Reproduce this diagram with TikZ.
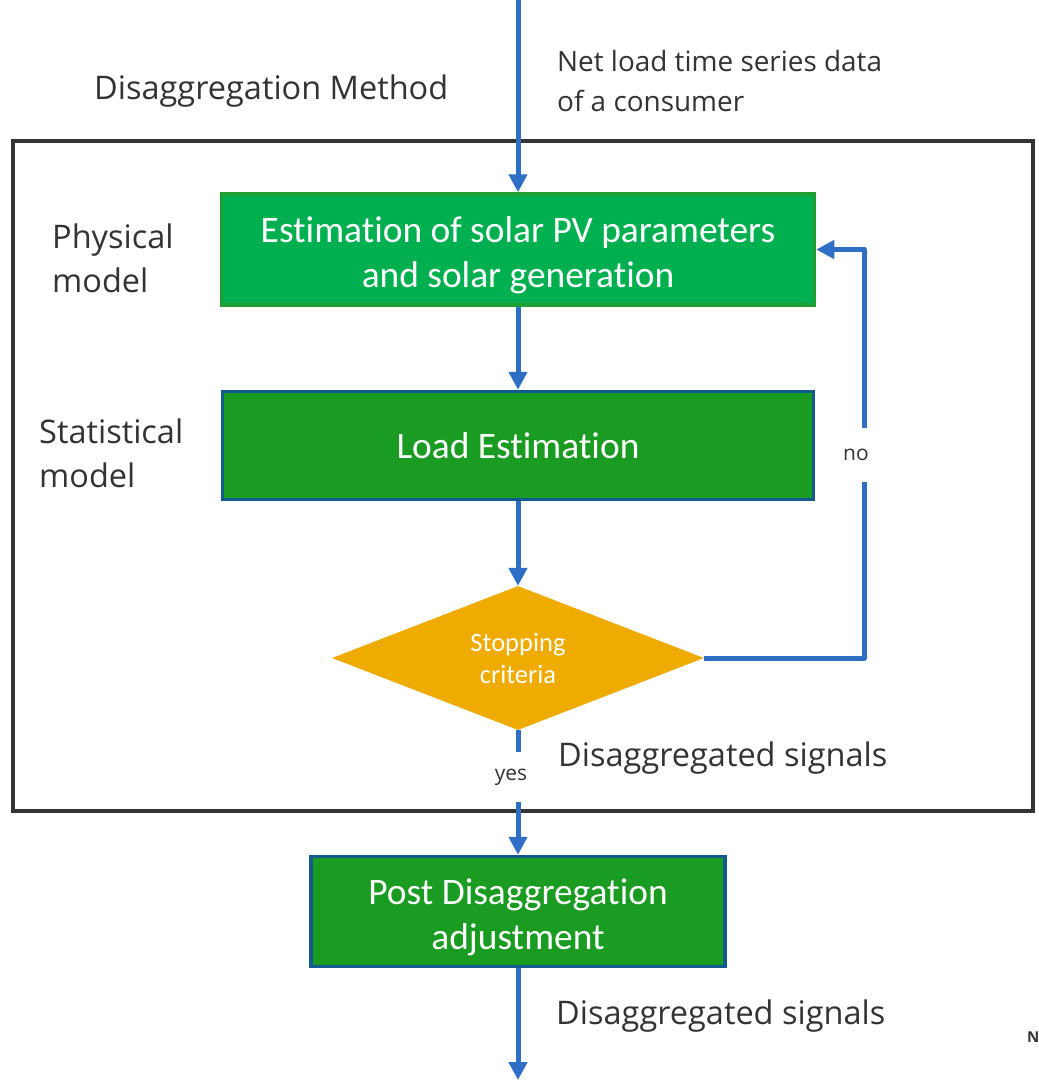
\documentclass[tikz,border=0pt]{standalone}
\usepackage{fontspec}
\usetikzlibrary{arrows.meta,shapes.geometric}
\newfontfamily\boxfont[Ligatures={NoCommon,NoContextual}]{Carlito}
\newfontfamily\lblfont{Open Sans}
\newcommand{\toppad}{\rule{0pt}{37pt}}
\definecolor{arrblue}{HTML}{2F6EC5}
\definecolor{gA}{HTML}{00B050}
\definecolor{gAb}{HTML}{1F9E34}
\definecolor{gB}{HTML}{1A9C22}
\definecolor{bB}{HTML}{125A8E}
\definecolor{dia}{HTML}{F0AB00}
\definecolor{txt}{HTML}{333333}
\definecolor{framec}{HTML}{333333}
\begin{document}
\begin{tikzpicture}[x=1pt,y=-1pt,
 arr/.style={draw=arrblue,line width=5pt,-{Triangle[width=18pt,length=18pt]}},
 boxA/.style={draw=gAb,fill=gA,line width=3.5pt,text=white,font=\boxfont\fontsize{37.4}{45}\selectfont,align=center,inner sep=0pt},
 boxB/.style={draw=bB,fill=gB,line width=3.5pt,text=white,font=\boxfont\fontsize{37.4}{45}\selectfont,align=center,inner sep=0pt},
 decide/.style={diamond,fill=dia,text=white,font=\boxfont\fontsize{26.5}{32}\selectfont,align=center,inner sep=0pt,aspect=2.58},
 lbl/.style={text=txt,font=\lblfont\fontsize{32.5}{44}\selectfont,align=left,anchor=west,inner sep=0pt},
 small/.style={text=txt,font=\lblfont\fontsize{27.9}{40}\selectfont,align=left,anchor=west,inner sep=0pt},
 tag/.style={text=txt,fill=white,font=\lblfont\fontsize{21}{25}\selectfont,inner sep=3pt},
]
\useasboundingbox (0,0) rectangle (1039,1080);
% outer frame
\node[draw=framec,line width=3.5pt,minimum width=1020pt,minimum height=670pt,inner sep=0pt] (frm) at (523,476) {};
% coordinates
\coordinate (top) at (518,0);
\coordinate (bot) at (518,1080);
% boxes
\node[boxA,minimum width=593pt,minimum height=111pt] (b1) at (518,249.5) {\toppad Estimation of solar PV parameters\\and solar generation};
\node[boxB,minimum width=591pt,minimum height=108pt] (b2) at (518,445.5) {Load Estimation};
\node[decide,minimum width=372pt,minimum height=144pt] (d) at (518,658) {Stopping\\criteria};
\node[boxB,minimum width=414pt,minimum height=110pt] (b3) at (518,911.5) {\toppad Post Disaggregation\\adjustment};
\coordinate (c1) at (864,658);
\coordinate (c2) at (864,249.5);
% connectors
\draw[arr] (top) -- (b1.north);
\draw[arr] (b1.south) -- (b2.north);
\draw[arr] (b2.south) -- (d.north);
\draw[arr,line join=round] (d.east) -- (c1) -- (c2) -- (b1.east);
\draw[arr] (d.south) -- (b3.north);
\draw[arr] (b3.south) -- (bot);
% tags
\node[tag,minimum height=54pt] (no) at (856,455) {no};
\node[tag,minimum height=50pt] (yes) at (511,777) {yes};
% labels
\node[lbl] (meth) at (94,91) {Disaggregation Method};
\node[small] (inp) at (557,81) {Net load time series data\\of a consumer};
\node[lbl] (phys) at (52,258) {Physical\\model};
\node[lbl] (stat) at (39,453) {Statistical\\model};
\node[lbl] (out1) at (558,758) {Disaggregated signals};
\node[lbl] (out2) at (556,1016) {Disaggregated signals};
\node[text=txt,font=\lblfont\bfseries\fontsize{15}{18}\selectfont,anchor=west,inner sep=0pt] (nn) at (1027,1037) {N};
\end{tikzpicture}
\end{document}
